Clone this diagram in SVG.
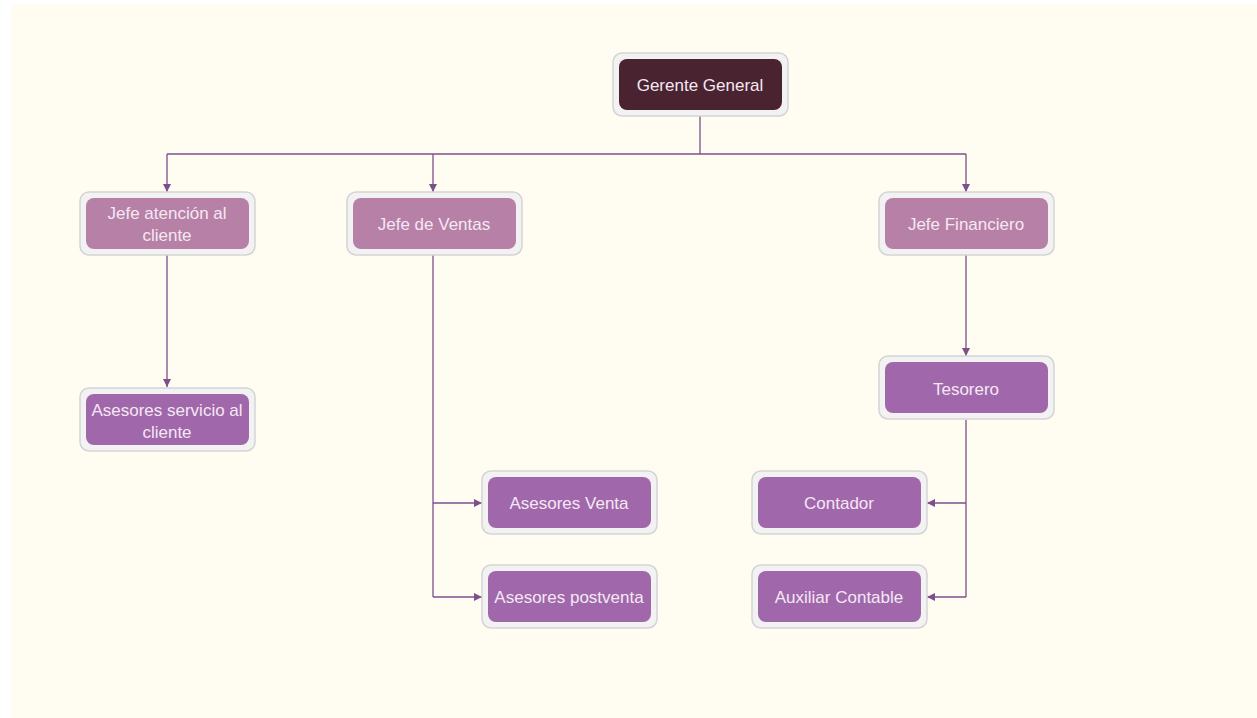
<svg xmlns="http://www.w3.org/2000/svg" width="1257" height="718" viewBox="0 0 1257 718">
<style>
.frame{fill:#f3f2f2;stroke:#d6d3d6;stroke-width:1.5}
.dark{fill:#4a2330}
.mid{fill:#b780a6}
.lt{fill:#a067aa}
.t{font-family:"Liberation Sans",Arial,sans-serif;font-size:17px;fill:#f4e8f4;text-anchor:middle}
.c{fill:none;stroke:#7d4f8c;stroke-width:1.3}
</style>
<defs>
<marker id="ah" viewBox="0 0 10 10" refX="10" refY="5" markerWidth="8" markerHeight="8" markerUnits="userSpaceOnUse" orient="auto">
<path d="M0,0 L10,5 L0,10 Z" fill="#7d4f8c"/>
</marker>
</defs>
<rect x="11" y="4" width="1246" height="714" fill="#fffdf2"/>
<g id="connectors">
<path class="c" d="M700,116 V154"/>
<path class="c" d="M167,154 H966"/>
<path class="c" d="M167,154 V192" marker-end="url(#ah)"/>
<path class="c" d="M433,154 V192" marker-end="url(#ah)"/>
<path class="c" d="M966,154 V192" marker-end="url(#ah)"/>
<path class="c" d="M167,255 V387" marker-end="url(#ah)"/>
<path class="c" d="M433,255 V597"/>
<path class="c" d="M433,503 H482" marker-end="url(#ah)"/>
<path class="c" d="M433,597 H482" marker-end="url(#ah)"/>
<path class="c" d="M966,255 V356" marker-end="url(#ah)"/>
<path class="c" d="M966,420 V597"/>
<path class="c" d="M966,503 H927" marker-end="url(#ah)"/>
<path class="c" d="M966,597 H927" marker-end="url(#ah)"/>
</g>
<g id="gerente">
<rect class="frame" x="613" y="53" width="175" height="63" rx="9"/>
<rect class="dark" x="619" y="59" width="163" height="51" rx="8"/>
<text class="t" x="700" y="91">Gerente General</text>
</g>
<g id="jefe-atencion">
<rect class="frame" x="80" y="192" width="175" height="63" rx="9"/>
<rect class="mid" x="86" y="198" width="163" height="51" rx="8"/>
<text class="t" x="167" y="219">Jefe atención al</text>
<text class="t" x="167" y="241">cliente</text>
</g>
<g id="jefe-ventas">
<rect class="frame" x="347" y="192" width="175" height="63" rx="9"/>
<rect class="mid" x="353" y="198" width="163" height="51" rx="8"/>
<text class="t" x="434" y="230">Jefe de Ventas</text>
</g>
<g id="jefe-financiero">
<rect class="frame" x="879" y="192" width="175" height="63" rx="9"/>
<rect class="mid" x="885" y="198" width="163" height="51" rx="8"/>
<text class="t" x="966" y="230">Jefe Financiero</text>
</g>
<g id="asesores-servicio">
<rect class="frame" x="80" y="388" width="175" height="63" rx="9"/>
<rect class="lt" x="86" y="394" width="163" height="51" rx="8"/>
<text class="t" x="167" y="416">Asesores servicio al</text>
<text class="t" x="167" y="438">cliente</text>
</g>
<g id="tesorero">
<rect class="frame" x="879" y="356" width="175" height="63" rx="9"/>
<rect class="lt" x="885" y="362" width="163" height="51" rx="8"/>
<text class="t" x="966" y="395">Tesorero</text>
</g>
<g id="asesores-venta">
<rect class="frame" x="482" y="471" width="175" height="63" rx="9"/>
<rect class="lt" x="488" y="477" width="163" height="51" rx="8"/>
<text class="t" x="569" y="509">Asesores Venta</text>
</g>
<g id="asesores-postventa">
<rect class="frame" x="482" y="565" width="175" height="63" rx="9"/>
<rect class="lt" x="488" y="571" width="163" height="51" rx="8"/>
<text class="t" x="569" y="603">Asesores postventa</text>
</g>
<g id="contador">
<rect class="frame" x="752" y="471" width="175" height="63" rx="9"/>
<rect class="lt" x="758" y="477" width="163" height="51" rx="8"/>
<text class="t" x="839" y="509">Contador</text>
</g>
<g id="auxiliar">
<rect class="frame" x="752" y="565" width="175" height="63" rx="9"/>
<rect class="lt" x="758" y="571" width="163" height="51" rx="8"/>
<text class="t" x="839" y="603">Auxiliar Contable</text>
</g>
</svg>
